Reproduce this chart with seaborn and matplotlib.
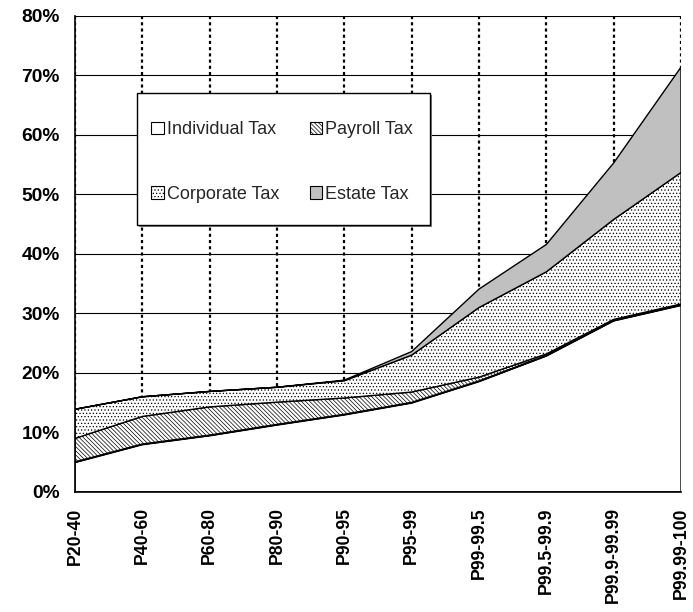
import numpy as np
import pandas as pd
import matplotlib
matplotlib.use("Agg")
import matplotlib.pyplot as plt
from matplotlib.patches import Patch, Rectangle
import seaborn as sns

# Data (percent of income, by component)
groups = ["P20-40", "P40-60", "P60-80", "P80-90", "P90-95", "P95-99",
          "P99-99.5", "P99.5-99.9", "P99.9-99.99", "P99.99-100"]
individual = [5.0, 8.0, 9.5, 11.3, 13.0, 15.0, 18.6, 22.9, 28.8, 31.4]
payroll = [4.0, 4.7, 4.8, 3.8, 2.8, 1.8, 0.7, 0.3, 0.2, 0.2]
corporate = [4.9, 3.3, 2.6, 2.5, 2.9, 6.2, 11.7, 13.8, 16.8, 22.1]
estate = [0.0, 0.0, 0.0, 0.0, 0.1, 0.6, 3.1, 4.6, 9.5, 17.7]
yticks = [0, 10, 20, 30, 40, 50, 60, 70, 80]

sns.set_theme(style="white")
plt.rcParams["font.family"] = ["Liberation Sans", "DejaVu Sans"]
plt.rcParams["hatch.linewidth"] = 0.5

df = pd.DataFrame({"group": groups, "Individual Tax": individual,
                   "Payroll Tax": payroll, "Corporate Tax": corporate,
                   "Estate Tax": estate})
df["x"] = np.arange(len(groups))

layers = [("Individual Tax", "white", ""),
          ("Payroll Tax", "white", "\\" * 8),
          ("Corporate Tax", "white", "....."),
          ("Estate Tax", "#c0c0c0", "")]

fig = plt.figure(figsize=(6.93, 6.12), dpi=100)
ax = fig.add_axes([0.1082, 0.1961, 0.8745, 0.7778])

base = np.zeros(len(groups))
for name, color, hatch in layers:
    top = base + df[name].values
    ax.fill_between(df["x"], base, top, facecolor=color, hatch=hatch,
                    edgecolor="black", linewidth=1.0)
    base = top

# thicker line on top of the individual tax layer
sns.lineplot(data=df, x="x", y="Individual Tax", ax=ax, color="black",
             linewidth=1.5)

ax.set_xlim(0, len(groups) - 1)
ax.set_ylim(0, 80)
ax.set_xticks(df["x"])
ax.set_xticklabels(groups, rotation=90, fontsize=12.7, fontweight="bold")
ax.set_yticks(yticks)
ax.set_yticklabels([f"{v}%" for v in yticks], fontsize=13.8, fontweight="bold")
ax.set_xlabel("")
ax.set_ylabel("")

ax.set_axisbelow(True)
ax.grid(axis="y", color="black", linewidth=0.8)
ax.grid(axis="x", color="black", linewidth=1.6, linestyle=(0, (1.4, 1.4)))

for s in ["top", "right"]:
    ax.spines[s].set_visible(False)
for s in ["left", "bottom"]:
    ax.spines[s].set_color("black")
    ax.spines[s].set_linewidth(1.2)
ax.tick_params(axis="both", direction="out", length=5, width=1.0,
               color="black", labelcolor="black")
ax.tick_params(axis="y", pad=6)
ax.tick_params(axis="x", pad=6)

# legend box with a grey drop shadow (Excel style)
box_x, box_y, box_w, box_h = 0.1023, 0.561, 0.4835, 0.2773
ax.add_patch(Rectangle((box_x + 0.004, box_y - 0.005), box_w, box_h,
                       transform=ax.transAxes, facecolor="0.5",
                       edgecolor="none", zorder=4))
ax.add_patch(Rectangle((box_x, box_y), box_w, box_h, transform=ax.transAxes,
                       facecolor="white", edgecolor="black", linewidth=1.0,
                       zorder=4.5))

handles = [Patch(facecolor=c, edgecolor="black", hatch=h, label=n, linewidth=0.8)
           for n, c, h in layers]
# legend fills column by column: row 1 = Individual, Payroll; row 2 = Corporate, Estate
order = [0, 2, 1, 3]
leg = ax.legend(handles=[handles[i] for i in order], ncol=2, loc="upper left",
                bbox_to_anchor=(0.126, 0.779), borderaxespad=0, fontsize=13,
                frameon=False, borderpad=0, labelspacing=2.65,
                handlelength=0.7, handleheight=0.7, handletextpad=0.15,
                columnspacing=1.7)
leg.set_zorder(5)

fig.savefig("out.png", dpi=100)
